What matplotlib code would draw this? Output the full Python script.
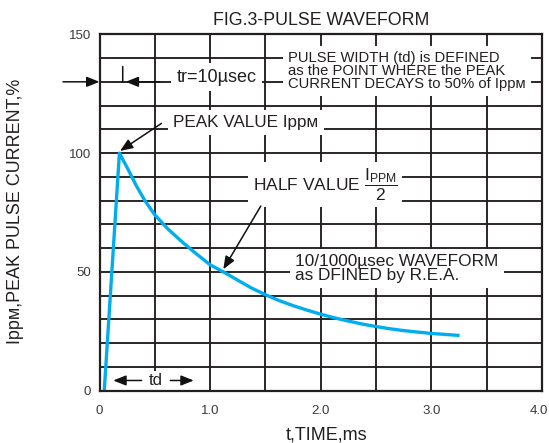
import matplotlib
matplotlib.use('Agg')
import matplotlib.pyplot as plt
from matplotlib.transforms import ScaledTranslation

# ---- data ----
time_ms = [0.043, 0.18, 0.22, 0.26, 0.33, 0.41, 0.50, 0.62, 0.75, 0.87, 1.00,
           1.12, 1.25, 1.37, 1.50, 1.62, 1.75, 1.87, 2.00, 2.12, 2.25, 2.37,
           2.50, 2.62, 2.75, 2.87, 3.00, 3.12, 3.24]
current_pct = [0.0, 100.0, 96.5, 93.0, 86.5, 80.0, 74.0, 68.0, 62.5, 57.8, 53.0,
               50.0, 46.5, 43.3, 40.4, 38.0, 35.8, 34.0, 32.2, 30.7, 29.3, 28.1,
               27.0, 26.1, 25.3, 24.7, 24.1, 23.7, 23.3]

x_major = [0, 1, 2, 3, 4]
x_labels = ['0', '1.0', '2.0', '3.0', '4.0']
x_minor = [0, 0.5, 1, 1.5, 2, 2.5, 3, 3.5, 4]
y_major = [0, 50, 100, 150]
y_labels = ['0', '50', '100', '150']
y_minor = [0, 10, 20, 30, 40, 50, 60, 70, 80, 90, 100, 110, 120, 130, 140, 150]

title = 'FIG.3-PULSE WAVEFORM'
x_title = 't,TIME,ms'
y_title = 'Ipp\u1d0d,PEAK PULSE CURRENT,%'

# ---- style ----
plt.rcParams['font.family'] = ['Liberation Sans', 'DejaVu Sans']
plt.rcParams['mathtext.fontset'] = 'custom'
plt.rcParams['mathtext.rm'] = 'Liberation Sans'
plt.rcParams['mathtext.it'] = 'Liberation Sans:italic'
plt.rcParams['mathtext.default'] = 'regular'

TC = '#231f20'
LINE = '#00aeef'
W, H = 549, 443

fig = plt.figure(figsize=(W / 100, H / 100), dpi=100)
fig.patch.set_facecolor('white')
ax = fig.add_axes([99.5 / W, 1 - 390.7 / H, (542 - 99.5) / W, (390.7 - 34.3) / H])

ax.set_xlim(0, 4)
ax.set_ylim(0, 150)
ax.set_xticks(x_major)
ax.set_xticklabels(x_labels)
ax.set_xticks(x_minor, minor=True)
ax.set_yticks(y_major)
ax.set_yticklabels(y_labels)
ax.set_yticks(y_minor, minor=True)
ax.tick_params(which='both', length=0)
ax.tick_params(axis='x', pad=10.5, labelsize=9.5, labelcolor='#3a3a3a')
ax.tick_params(axis='y', pad=6.3, labelsize=9.5, labelcolor='#3a3a3a')
ax.set_axisbelow(True)
ax.grid(which='both', color=TC, lw=1.35)
for s in ax.spines.values():
    s.set_color(TC)
    s.set_linewidth(1.6)
    s.set_zorder(5)

last = ax.get_xticklabels()[-1]
last.set_horizontalalignment('right')
last.set_transform(last.get_transform() +
                   ScaledTranslation(6 / 100, 0, fig.dpi_scale_trans))

ax.plot(time_ms, current_pct, color=LINE, lw=2.4, solid_joinstyle='round',
        zorder=2)

box = dict(boxstyle='square,pad=0.3', fc='white', ec='none')
fs = 12.5

# texts
ax.text(1.06, 130, 'tr=10\u00b5sec', fontsize=13, color=TC, ha='center',
        va='baseline', bbox=box, zorder=3)
ax.text(1.704, 134.6,
        'PULSE WIDTH (td) is DEFINED\nas the POINT WHERE the PEAK\n'
        'CURRENT DECAYS to 50% of Ipp\u1d0d',
        fontsize=10.6, color=TC, ha='left', va='center', linespacing=0.92,
        bbox=dict(boxstyle='square,pad=0.35', fc='white', ec='none'), zorder=3)
ax.text(1.324, 111, 'PEAK VALUE Ipp\u1d0d', fontsize=12.3, color=TC,
        ha='center', va='baseline', bbox=box, zorder=3)
ax.text(1.385, 84, r'HALF VALUE $\dfrac{I_{PPM}}{2}$', fontsize=fs, color=TC,
        ha='left', va='baseline', bbox=dict(boxstyle='square,pad=0.25',
                                            fc='white', ec='none'), zorder=3)
ax.text(1.768, 51.5, '10/1000\u00b5sec WAVEFORM\nas DFINED by R.E.A.',
        fontsize=12.4, color=TC, ha='left', va='center', linespacing=0.9,
        bbox=box, zorder=3)
ax.text(0.511, 4.3, 'td', fontsize=12, color=TC, ha='center', va='center',
        bbox=dict(boxstyle='square,pad=0.12', fc='white', ec='none'), zorder=3)

arrow = dict(arrowstyle='-|>,head_length=0.55,head_width=0.22',
             mutation_scale=14, color='#111111', lw=1.1, shrinkA=0, shrinkB=0)

def arr(tail, head):
    ax.annotate('', xy=head, xytext=tail, arrowprops=arrow,
                annotation_clip=False, zorder=4)

arr((0.56, 112.5), (0.185, 100.9))     # peak value
arr((1.458, 77.7), (1.119, 51.1))      # half value
arr((-0.33, 130), (0.0, 130))          # tr outside
arr((0.545, 130), (0.236, 130))        # tr inside
arr((0.38, 4.3), (0.124, 4.3))         # td left
arr((0.64, 4.3), (0.852, 4.3))         # td right
ax.annotate('', xy=(0.21, 136.4), xytext=(0.21, 130),
            arrowprops=dict(arrowstyle='-', color='#111111', lw=1.1,
                            shrinkA=0, shrinkB=0), zorder=4)

fig.text(321 / W, 1 - 25 / H, title, fontsize=12.8, color=TC, ha='center',
         va='baseline')
fig.text(327 / W, 1 - 440 / H, x_title, fontsize=13, color=TC, ha='center',
         va='baseline')
fig.text(16 / W, 1 - 211 / H, y_title, fontsize=12.9, color=TC, ha='center',
         va='center', rotation=90)

fig.savefig('out.png', dpi=100, facecolor='white')
